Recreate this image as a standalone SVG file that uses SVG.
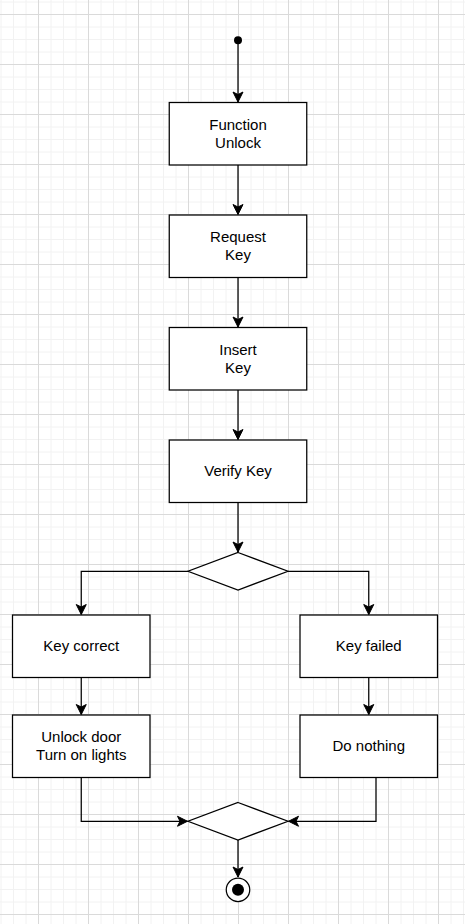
<svg xmlns="http://www.w3.org/2000/svg" width="465" height="924" viewBox="0 0 465 924">
<style>
.box{fill:#fff;stroke:#000;stroke-width:1.25}
.lbl{font-family:"Liberation Sans",Arial,sans-serif;font-size:15px;fill:#000;text-anchor:middle}
.edge{fill:none;stroke:#000;stroke-width:1.25}
</style>
<defs>
<pattern id="grid" patternUnits="userSpaceOnUse" x="38" y="14" width="50" height="50">
<path d="M13,0V50M25.5,0V50M38,0V50M0,13H50M0,25.5H50M0,38H50" stroke="#f2f2f2" stroke-width="1" fill="none"/>
<path d="M0.5,0V50M0,0.5H50" stroke="#dadada" stroke-width="1" fill="none"/>
</pattern>
<marker id="arr" markerUnits="userSpaceOnUse" markerWidth="12" markerHeight="12" viewBox="-11 -6 12 12" refX="0" refY="0" orient="auto">
<path d="M-10,-5L0,0L-10,5L-7.5,0Z" fill="#000" stroke="#000" stroke-width="1"/>
</marker>
</defs>
<rect width="465" height="924" fill="#fff"/>
<rect width="465" height="924" fill="url(#grid)"/>
<g id="connectors">
<path class="edge" d="M238,40V102" marker-end="url(#arr)"/>
<path class="edge" d="M238,165V214.5" marker-end="url(#arr)"/>
<path class="edge" d="M238,277.5V327" marker-end="url(#arr)"/>
<path class="edge" d="M238,390V439.5" marker-end="url(#arr)"/>
<path class="edge" d="M238,502.5V552" marker-end="url(#arr)"/>
<path class="edge" d="M188,571.25H81.25V614.5" marker-end="url(#arr)"/>
<path class="edge" d="M288,571.25H368.75V614.5" marker-end="url(#arr)"/>
<path class="edge" d="M81.25,677.5V714.5" marker-end="url(#arr)"/>
<path class="edge" d="M368.75,677.5V714.5" marker-end="url(#arr)"/>
<path class="edge" d="M81.25,777.5V821.25H187.5" marker-end="url(#arr)"/>
<path class="edge" d="M376,777.5V821.25H288.5" marker-end="url(#arr)"/>
<path class="edge" d="M238,840V877" marker-end="url(#arr)"/>
</g>
<g id="start"><circle cx="238" cy="40.25" r="4" fill="#000"/></g>
<g id="function-unlock"><rect class="box" x="169.25" y="102.5" width="137.5" height="62.5"/><text class="lbl" x="238" y="129.5">Function</text><text class="lbl" x="238" y="147.5">Unlock</text></g>
<g id="request-key"><rect class="box" x="169.25" y="215" width="137.5" height="62.5"/><text class="lbl" x="238" y="242">Request</text><text class="lbl" x="238" y="260">Key</text></g>
<g id="insert-key"><rect class="box" x="169.25" y="327.5" width="137.5" height="62.5"/><text class="lbl" x="238" y="354.5">Insert</text><text class="lbl" x="238" y="372.5">Key</text></g>
<g id="verify-key"><rect class="box" x="169.25" y="440" width="137.5" height="62.5"/><text class="lbl" x="238" y="475.5">Verify Key</text></g>
<g id="decision"><path class="box" d="M238,552.5L288,571.25L238,590L188,571.25Z"/></g>
<g id="key-correct"><rect class="box" x="12.5" y="615" width="137.5" height="62.5"/><text class="lbl" x="81.25" y="650.5">Key correct</text></g>
<g id="key-failed"><rect class="box" x="300" y="615" width="137.5" height="62.5"/><text class="lbl" x="368.75" y="650.5">Key failed</text></g>
<g id="unlock-door"><rect class="box" x="12.5" y="715" width="137.5" height="62.5"/><text class="lbl" x="81.25" y="742">Unlock door</text><text class="lbl" x="81.25" y="760">Turn on lights</text></g>
<g id="do-nothing"><rect class="box" x="300" y="715" width="137.5" height="62.5"/><text class="lbl" x="368.75" y="750.5">Do nothing</text></g>
<g id="merge"><path class="box" d="M238,802.5L288,821.25L238,840L188,821.25Z"/></g>
<g id="end"><circle cx="238" cy="889.75" r="11.75" fill="#fff" stroke="#000" stroke-width="1.25"/><circle cx="238" cy="889.75" r="6" fill="#000"/></g>
</svg>
